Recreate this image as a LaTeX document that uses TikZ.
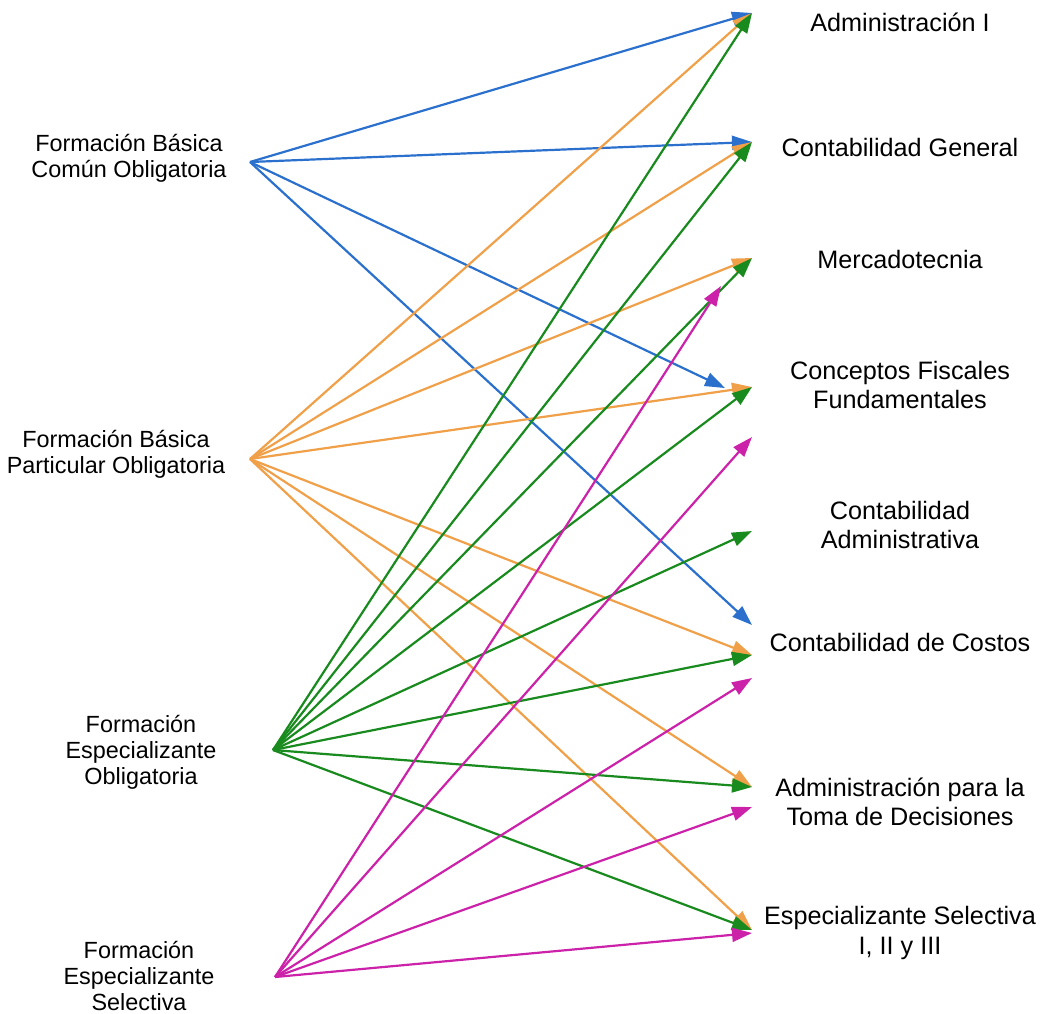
\documentclass[tikz,border=0pt]{standalone}
\usepackage{fontspec}
\setmainfont{Liberation Sans}
\usetikzlibrary{arrows.meta}

\definecolor{linkblue}{RGB}{42,112,204}
\definecolor{linkorange}{RGB}{240,160,72}
\definecolor{linkgreen}{RGB}{24,138,30}
\definecolor{linkmagenta}{RGB}{204,34,170}

\tikzset{
    label/.style = {align=center, inner sep=0pt, font=\fontsize{12.6}{14.7}\selectfont},
    srclabel/.style = {align=center, inner sep=0pt, font=\fontsize{11.7}{12.9}\selectfont},
    link/.style = {line width=1.1pt, -{Triangle[length=10pt,width=7pt]}}
}

\begin{document}
\begin{tikzpicture}[x=0.5pt, y=-0.5pt]

    \useasboundingbox (0,0) rectangle (1042,1013);

    \node[srclabel] (fbco) at (129,158) {Formación Básica\\Común Obligatoria};
    \node[srclabel] (fbpo) at (116,454) {Formación Básica\\Particular Obligatoria};
    \node[srclabel] (feo) at (141,752) {Formación\\Especializante\\Obligatoria};
    \node[srclabel] (fes) at (139,976) {Formación\\Especializante\\Selectiva};

    \node[label] (adm) at (900,22) {Administración I};
    \node[label] (cg) at (900,147) {Contabilidad General};
    \node[label] (merc) at (900,259) {Mercadotecnia};
    \node[label] (cff) at (900,385) {Conceptos Fiscales\\Fundamentales};
    \node[label] (cadm) at (900,525) {Contabilidad\\Administrativa};
    \node[label] (ccos) at (900,642) {Contabilidad de Costos};
    \node[label] (atd) at (900,802) {Administración para la\\Toma de Decisiones};
    \node[label] (esel) at (900,933) {Especializante Selectiva\\I, II y III};

    \coordinate (fbco-out) at (250,162);
    \coordinate (fbpo-out) at (250,459);
    \coordinate (feo-out) at (273,750);
    \coordinate (fes-out) at (275,977);

    \coordinate (adm-in) at (752,13);
    \coordinate (cg-in) at (752,142);
    \coordinate (merc-in) at (752,258);
    \coordinate (merc-m) at (721,286);
    \coordinate (cff-in) at (752,387);
    \coordinate (cff-b) at (725,388);
    \coordinate (cff-m) at (752,437);
    \coordinate (cadm-in) at (752,531);
    \coordinate (ccos-b) at (752,625);
    \coordinate (ccos-in) at (752,655);
    \coordinate (ccos-m) at (752,678);
    \coordinate (atd-in) at (752,787);
    \coordinate (atd-m) at (752,807);
    \coordinate (esel-in) at (752,930);
    \coordinate (esel-m) at (752,933);

    \foreach \t in {adm-in,cg-in,cff-b,ccos-b}
        \draw[link, linkblue] (fbco-out) -- (\t);
    \foreach \t in {adm-in,cg-in,merc-in,cff-in,ccos-in,atd-in,esel-in}
        \draw[link, linkorange] (fbpo-out) -- (\t);
    \foreach \t in {adm-in,cg-in,merc-in,cff-in,cadm-in,ccos-in,atd-in,esel-in}
        \draw[link, linkgreen] (feo-out) -- (\t);
    \foreach \t in {merc-m,cff-m,ccos-m,atd-m,esel-m}
        \draw[link, linkmagenta] (fes-out) -- (\t);

\end{tikzpicture}
\end{document}
